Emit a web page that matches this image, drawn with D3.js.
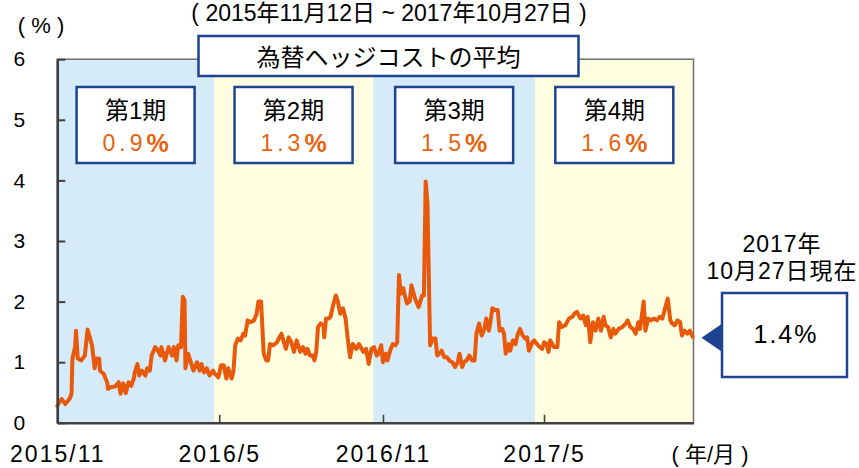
<!DOCTYPE html>
<html><head><meta charset="utf-8">
<script src="https://cdn.jsdelivr.net/npm/d3@7"></script>
<style>body{margin:0;background:#fff}svg{display:block}</style>
</head><body>
<svg id="chart" width="859" height="468"></svg>
<script>
// ---------- data ----------
const startDate = "2015-11-12";
const endDate = "2017-10-27";
const yTicks = [0, 1, 2, 3, 4, 5, 6];
const xTickDates = ["2015-11-12", "2016-05-12", "2016-11-12", "2017-05-12"];
const xTickLabels = ["2015/11", "2016/5", "2016/11", "2017/5"];
const periodBounds = ["2015-11-12", "2016-05-06", "2016-11-01", "2017-05-02", "2017-10-27"];
const periodNames = ["第1期", "第2期", "第3期", "第4期"];
const periodAverages = ["0.9", "1.3", "1.5", "1.6"];
const titleText = "( 2015年11月12日 ~ 2017年10月27日 )";
const boxTitle = "為替ヘッジコストの平均";
const unitY = "( % )";
const unitX = "( 年/月 )";
const latestLabel = ["2017年", "10月27日現在"];
const latestValue = "1.4";
// [days since startDate, hedge cost %]
const hedgeCost = [
 [0,0.28],[1,0.31],[5,0.39],[9,0.31],[14,0.40],[16,0.48],[17,1.06],[20,1.25],[21,1.52],[23,1.06],[27,1.03],[31,1.11],[34,1.54],[36,1.44],[39,1.28],[42,0.90],[44,1.06],[47,1.06],[48,0.86],[52,0.81],[56,0.67],[57,0.56],[61,0.59],[65,0.60],[69,0.67],[71,0.48],[74,0.65],[77,0.49],[80,0.67],[83,0.61],[86,0.73],[87,0.83],[90,0.97],[92,0.78],[95,0.86],[99,0.78],[101,0.90],[104,0.86],[106,1.11],[110,1.25],[112,1.22],
 [116,1.11],[117,1.25],[121,1.03],[125,1.25],[129,1.11],[131,1.25],[134,1.03],[136,1.28],[139,1.25],[141,2.08],[143,2.02],[144,0.90],[147,1.14],[150,1.00],[153,0.86],[157,1.00],[160,0.86],[162,0.97],[165,0.83],[168,0.90],[171,0.78],[175,0.86],[177,0.81],[181,0.75],[184,0.95],[187,0.95],[190,0.73],[192,0.90],[196,0.73],[198,0.86],[200,1.28],[203,1.39],[206,1.36],[209,1.47],[211,1.44],[214,1.69],[217,1.66],[221,1.69],[224,1.80],[226,2.00],
 [229,2.00],[232,1.14],[235,1.03],[237,1.03],[239,1.30],[243,1.28],[247,1.33],[249,1.39],[252,1.47],[254,1.36],[257,1.22],[260,1.41],[263,1.33],[266,1.17],[269,1.36],[273,1.17],[276,1.25],[279,1.14],[281,1.22],[284,1.11],[287,1.11],[289,1.03],[291,1.17],[293,1.58],[296,1.64],[299,1.61],[300,1.41],[302,1.72],[305,1.72],[307,1.75],[310,1.94],[313,2.10],[315,2.02],[318,1.80],[321,1.89],[324,1.72],[326,1.44],[329,1.08],[332,1.30],[336,1.22],[339,1.30],
 [344,1.17],[347,1.22],[350,0.97],[353,1.22],[356,1.25],[359,1.11],[361,1.14],[364,1.28],[366,1.00],[369,1.14],[371,1.03],[374,1.19],[377,1.30],[380,1.28],[382,1.33],[384,2.44],[386,2.13],[389,2.22],[390,2.13],[393,1.97],[396,2.00],[398,2.27],[400,2.16],[402,2.05],[406,1.91],[410,2.10],[412,2.10],[414,3.98],[416,3.63],[419,1.28],[422,1.39],[425,1.39],[427,1.11],[430,1.15],[432,1.19],[435,1.08],[438,1.08],[441,1.02],
 [444,1.00],[447,0.92],[450,1.00],[452,1.14],[455,0.92],[457,1.00],[460,1.03],[463,1.11],[466,1.03],[469,1.03],[471,1.47],[474,1.64],[477,1.44],[480,1.55],[482,1.72],[485,1.52],[487,1.69],[489,1.89],[492,1.86],[495,1.86],[497,1.52],[500,1.55],[502,1.47],[504,1.14],[507,1.30],[509,1.19],[512,1.36],[515,1.30],[517,1.44],[520,1.55],[523,1.44],[526,1.39],[528,1.41],[530,1.19],[534,1.33],[536,1.36],[539,1.30],[542,1.25],[545,1.22],[547,1.33],[550,1.30],[552,1.17],[554,1.36],
 [558,1.25],[562,1.25],[564,1.66],[567,1.58],[571,1.61],[575,1.72],[579,1.75],[581,1.80],[584,1.83],[588,1.72],[591,1.77],[594,1.61],[596,1.75],[597,1.64],[599,1.33],[602,1.66],[605,1.52],[608,1.72],[611,1.52],[614,1.75],[616,1.61],[619,1.58],[622,1.41],[625,1.55],[627,1.47],[631,1.55],[635,1.58],[639,1.64],[641,1.69],[644,1.58],[647,1.55],[650,1.47],[653,1.66],[655,1.55],[659,2.00],[661,1.52],[664,1.72],[667,1.69],[671,1.72],[674,1.69],[677,1.75],[680,1.72],[682,1.83],[686,2.05],[689,1.69],[691,1.64],[694,1.61],[697,1.69],[700,1.66],[702,1.44],[705,1.52],[708,1.47],[711,1.52],[714,1.42]
];

// ---------- drawing ----------
const parse = d3.timeParse("%Y-%m-%d");
const t0 = parse(startDate), t1 = parse(endDate);
const L = 57.3, R = 693.5, T = 59.2, B = 422.8;
const BLUE = "#1d4391", ORANGE = "#e8590c", ORANGE_T = "#e8620e";
const NUM_FONT = "'Liberation Sans', Arial, 'Noto Sans CJK JP', sans-serif";
const JP_FONT = "'Liberation Sans', 'Noto Sans CJK JP', sans-serif";

const svg = d3.select("#chart");
const x = d3.scaleTime().domain([t0, t1]).range([L, R]);
const y = d3.scaleLinear().domain([0, 6]).range([B, T]);

// background bands
const bandColors = ["#d5ebf7", "#fefee0"];
const bounds = periodBounds.map(parse);
svg.append("g").selectAll("rect").data(periodNames).join("rect")
  .attr("x", (d, i) => x(bounds[i]))
  .attr("y", T)
  .attr("width", (d, i) => x(bounds[i + 1]) - x(bounds[i]))
  .attr("height", B - T)
  .attr("fill", (d, i) => bandColors[i % 2]);

// plot frame
svg.append("rect").attr("x", L).attr("y", T).attr("width", R - L).attr("height", B - T)
  .attr("fill", "none").attr("stroke", "#6f6f6f").attr("stroke-width", 1.5);

// line
const line = d3.line()
  .x(d => x(d3.timeDay.offset(t0, d[0])))
  .y(d => y(d[1]));
svg.append("path").datum(hedgeCost)
  .attr("d", line).attr("fill", "none").attr("stroke", ORANGE)
  .attr("stroke-width", 4).attr("stroke-linejoin", "round").attr("stroke-linecap", "round");

// y axis
const gy = svg.append("g").attr("transform", `translate(${L},0)`)
  .call(d3.axisLeft(y).tickValues(yTicks).tickSize(-8).tickSizeOuter(0).tickPadding(32).tickFormat(d3.format("d")));
gy.select(".domain").attr("stroke", "#404040").attr("stroke-width", 2.5);
gy.selectAll(".tick line").attr("stroke", "#404040").attr("stroke-width", 2);
gy.selectAll(".tick text").attr("font-family", NUM_FONT).attr("font-size", 21).attr("fill", "#000");

// x axis
const gx = svg.append("g").attr("transform", `translate(0,${B})`)
  .call(d3.axisBottom(x).tickValues(xTickDates.map(parse)).tickSize(-8).tickSizeOuter(0).tickPadding(23)
    .tickFormat((d, i) => xTickLabels[i]));
gx.select(".domain").attr("stroke", "#404040").attr("stroke-width", 2.5);
gx.selectAll(".tick line").attr("stroke", "#404040").attr("stroke-width", 1.6)
  .attr("opacity", (d, i) => i === 0 ? 0 : 1);
gx.selectAll(".tick text").attr("font-family", NUM_FONT).attr("font-size", 23)
  .attr("letter-spacing", 2).attr("fill", "#000");

// unit labels
svg.append("text").attr("x", 41).attr("y", 33).attr("text-anchor", "middle")
  .attr("font-family", JP_FONT).attr("font-size", 22).text(unitY);
svg.append("text").attr("x", 710).attr("y", 462).attr("text-anchor", "middle")
  .attr("font-family", JP_FONT).attr("font-size", 22).text(unitX);

// top title (subtitle of period)
svg.append("text").attr("x", 389).attr("y", 21).attr("text-anchor", "middle")
  .attr("font-family", JP_FONT).attr("font-size", 23).text(titleText);

// title box
svg.append("rect").attr("x", 198.5).attr("y", 36).attr("width", 380).attr("height", 40)
  .attr("fill", "#fff").attr("stroke", BLUE).attr("stroke-width", 2.5);
svg.append("text").attr("x", 388.5).attr("y", 57).attr("text-anchor", "middle")
  .attr("dominant-baseline", "central").attr("font-family", JP_FONT).attr("font-size", 24).text(boxTitle);

// period boxes
const pg = svg.append("g").selectAll("g").data(periodNames).join("g")
  .attr("transform", (d, i) => `translate(${(x(bounds[i]) + x(bounds[i + 1])) / 2},0)`);
pg.append("rect").attr("x", -59).attr("y", 87).attr("width", 118).attr("height", 76)
  .attr("fill", "#fff").attr("stroke", BLUE).attr("stroke-width", 2.5);
pg.append("text").attr("y", 110).attr("text-anchor", "middle").attr("dominant-baseline", "central")
  .attr("font-family", JP_FONT).attr("font-size", 24).attr("fill", "#000").text(d => d);
const avg = pg.append("text").attr("y", 143).attr("x", 2).attr("text-anchor", "middle").attr("dominant-baseline", "central")
  .attr("font-family", NUM_FONT).attr("font-size", 23).attr("fill", ORANGE_T).attr("letter-spacing", 4);
avg.append("tspan").text((d, i) => periodAverages[i]);
avg.append("tspan").attr("font-weight", "bold").attr("font-size", 25).text("%");

// latest value callout
const cx = 782;
svg.append("text").attr("x", cx).attr("y", 252).attr("text-anchor", "middle")
  .attr("font-family", JP_FONT).attr("font-size", 23).attr("letter-spacing", 1).text(latestLabel[0]);
svg.append("text").attr("x", cx).attr("y", 279).attr("text-anchor", "middle")
  .attr("font-family", JP_FONT).attr("font-size", 23).attr("letter-spacing", 1).text(latestLabel[1]);
const lastPt = hedgeCost[hedgeCost.length - 1];
const tipY = y(lastPt[1]) + 1;
svg.append("path")
  .attr("d", `M${R + 8},${tipY} L722,${tipY - 14} L722,${tipY + 14} Z`)
  .attr("fill", BLUE);
svg.append("rect").attr("x", 722).attr("y", 293).attr("width", 125).attr("height", 84)
  .attr("fill", "#fff").attr("stroke", BLUE).attr("stroke-width", 2.5);
svg.append("text").attr("x", 786).attr("y", 334).attr("text-anchor", "middle").attr("dominant-baseline", "central")
  .attr("font-family", NUM_FONT).attr("font-size", 25).attr("letter-spacing", 2).text(latestValue + "%");
</script>
</body></html>
